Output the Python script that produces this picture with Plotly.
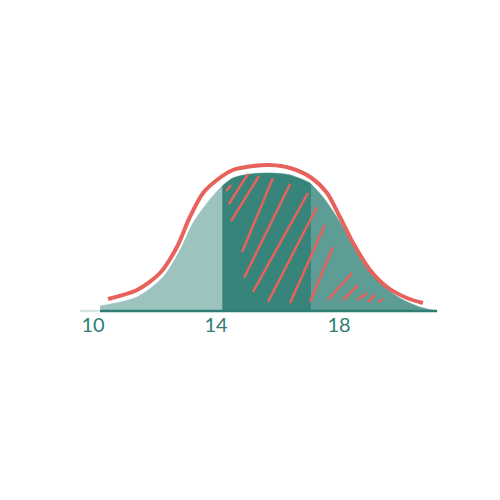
import plotly.graph_objects as go

# Filled density curve (value, height)
curve_x = [10.23, 11.43, 12.28, 12.83, 13.25, 13.71, 14.13, 14.20, 14.55, 15.11, 15.76,
           16.41, 17.06, 17.09, 17.48, 17.93, 18.36, 18.78, 19.33, 19.98, 20.63, 21.19]
curve_y = [0.005, 0.014, 0.034, 0.061, 0.088, 0.108, 0.123, 0.125, 0.133, 0.137, 0.138,
           0.136, 0.128, 0.127, 0.114, 0.094, 0.071, 0.048, 0.028, 0.013, 0.004, 0.000]

# Region boundaries (value)
region_edges = [10.23, 14.20, 17.09, 21.19]
region_colors = ["#9dc3bf", "#37847a", "#5e9d96"]

# Red outline curve
outline_x = [10.49, 11.43, 12.18, 12.73, 13.15, 13.58, 14.03, 14.55, 15.20, 15.76,
             16.41, 17.06, 17.61, 18.03, 18.46, 19.01, 19.56, 20.21, 20.73]
outline_y = [0.012, 0.021, 0.038, 0.064, 0.094, 0.118, 0.131, 0.141, 0.145, 0.146,
             0.143, 0.134, 0.118, 0.094, 0.068, 0.041, 0.024, 0.013, 0.008]

# Hatch strokes (start / end)
hatch_x0 = [14.33, 14.42, 14.49, 14.85, 14.91, 15.20, 15.69, 16.41, 17.06, 17.64, 18.13, 18.59, 18.94, 19.27]
hatch_y0 = [0.120, 0.107, 0.090, 0.059, 0.033, 0.019, 0.009, 0.008, 0.009, 0.011, 0.011, 0.011, 0.009, 0.009]
hatch_x1 = [14.49, 15.04, 15.40, 15.85, 16.41, 16.99, 17.28, 17.54, 17.80, 18.42, 18.62, 18.91, 19.17, 19.43]
hatch_y1 = [0.126, 0.137, 0.135, 0.133, 0.127, 0.118, 0.104, 0.086, 0.064, 0.038, 0.026, 0.018, 0.016, 0.012]

# Baseline extent
axis_start = 9.58
axis_end = 21.19

tick_vals = [10, 14, 18]
tick_text = ["10", "14", "18"]

RED = "#e6625b"
TEAL = "#2f7e74"

fig = go.Figure()

# filled regions
for i, col in enumerate(region_colors):
    lo, hi = region_edges[i], region_edges[i + 1]
    xs = [x for x in curve_x if lo <= x <= hi]
    ys = [y for x, y in zip(curve_x, curve_y) if lo <= x <= hi]
    fig.add_trace(go.Scatter(x=xs, y=ys, mode="lines", fill="tozeroy",
                             fillcolor=col, line=dict(color=col, width=0.5, shape="spline", smoothing=0.8),
                             hoverinfo="skip", showlegend=False))

# hatch strokes
hx, hy = [], []
for a, b, c, d in zip(hatch_x0, hatch_y0, hatch_x1, hatch_y1):
    hx += [a, c, None]
    hy += [b, d, None]
fig.add_trace(go.Scatter(x=hx, y=hy, mode="lines", line=dict(color=RED, width=2.5),
                         hoverinfo="skip", showlegend=False))

# baseline
fig.add_trace(go.Scatter(x=[axis_start, curve_x[0]], y=[0, 0], mode="lines",
                         line=dict(color="#d6e7e5", width=2.5), hoverinfo="skip", showlegend=False))
fig.add_trace(go.Scatter(x=[curve_x[0], axis_end], y=[0, 0], mode="lines",
                         line=dict(color=TEAL, width=2.5), hoverinfo="skip", showlegend=False))

# red outline
fig.add_trace(go.Scatter(x=outline_x, y=outline_y, mode="lines",
                         line=dict(color=RED, width=4, shape="spline", smoothing=0.8),
                         hoverinfo="skip", showlegend=False))

fig.update_layout(
    width=500, height=500,
    margin=dict(l=0, r=0, t=0, b=0),
    paper_bgcolor="white", plot_bgcolor="white",
    xaxis=dict(range=[7.236, 23.496], showgrid=False, zeroline=False, showline=False,
               tickvals=tick_vals, ticktext=tick_text, ticks="",
               anchor="free", position=0.394,
               tickfont=dict(family="Lato", size=20, color=TEAL)),
    yaxis=dict(range=[-0.197, 0.303], visible=False),
)

fig.write_html("out.html")
